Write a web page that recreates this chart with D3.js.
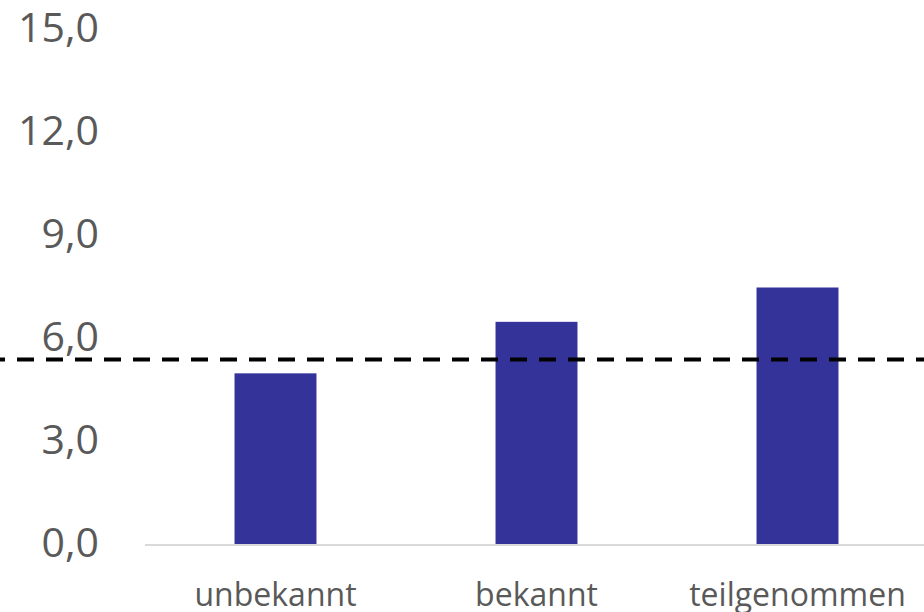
<!DOCTYPE html>
<html><head><meta charset="utf-8">
<script src="https://cdn.jsdelivr.net/npm/d3@7"></script>
<style>html,body{margin:0;padding:0;background:#fff;}</style>
</head><body>
<script>
const categories = ["unbekannt", "bekannt", "teilgenommen"];
const values = [5.0, 6.5, 7.5];
const referenceValue = [5.4];
const yTicks = [0, 3, 6, 9, 12, 15];

const W = 924, H = 612;
const svg = d3.select("body").append("svg").attr("width", W).attr("height", H);

const y = d3.scaleLinear().domain([0, 15]).range([545, 30]);
const x = d3.scaleBand().domain(categories).range([145, 928]).paddingInner(0.686).paddingOuter(0.343);
const fmt = v => d3.format(".1f")(v).replace(".", ",");

// y tick labels
const yAxis = d3.axisLeft(y).tickValues(yTicks).tickFormat(fmt).tickSize(0).tickPadding(0);
const gy = svg.append("g").attr("transform", "translate(99,-2)").call(yAxis);
gy.select(".domain").remove();
gy.selectAll("text").attr("font-family", "'Open Sans', sans-serif").attr("font-size", 41).attr("fill", "#595959");

// bars
svg.selectAll("rect.bar").data(values).enter().append("rect")
  .attr("class", "bar")
  .attr("x", (d, i) => x(categories[i]))
  .attr("width", x.bandwidth())
  .attr("y", d => y(d))
  .attr("height", d => y(0) - y(d))
  .attr("fill", "#343399");

// x axis
const xAxis = d3.axisBottom(x).tickSize(0).tickPadding(0);
const gx = svg.append("g").attr("transform", `translate(0,${y(0)})`).call(xAxis);
gx.select(".domain").remove();
gx.selectAll("text").attr("font-family", "'Open Sans', sans-serif").attr("font-size", 32).attr("fill", "#595959").attr("dy", null).attr("y", 61);
svg.append("line").attr("x1", 145).attr("x2", W).attr("y1", y(0)).attr("y2", y(0))
  .attr("stroke", "#d9d9d9").attr("stroke-width", 2);

// reference dashed line
svg.selectAll("line.ref").data(referenceValue).enter().append("line")
  .attr("class", "ref")
  .attr("x1", 0).attr("x2", W)
  .attr("y1", d => y(d)).attr("y2", d => y(d))
  .attr("stroke", "#000").attr("stroke-width", 4)
  .attr("stroke-dasharray", "17,12").attr("stroke-dashoffset", 12);
</script>
</body></html>
